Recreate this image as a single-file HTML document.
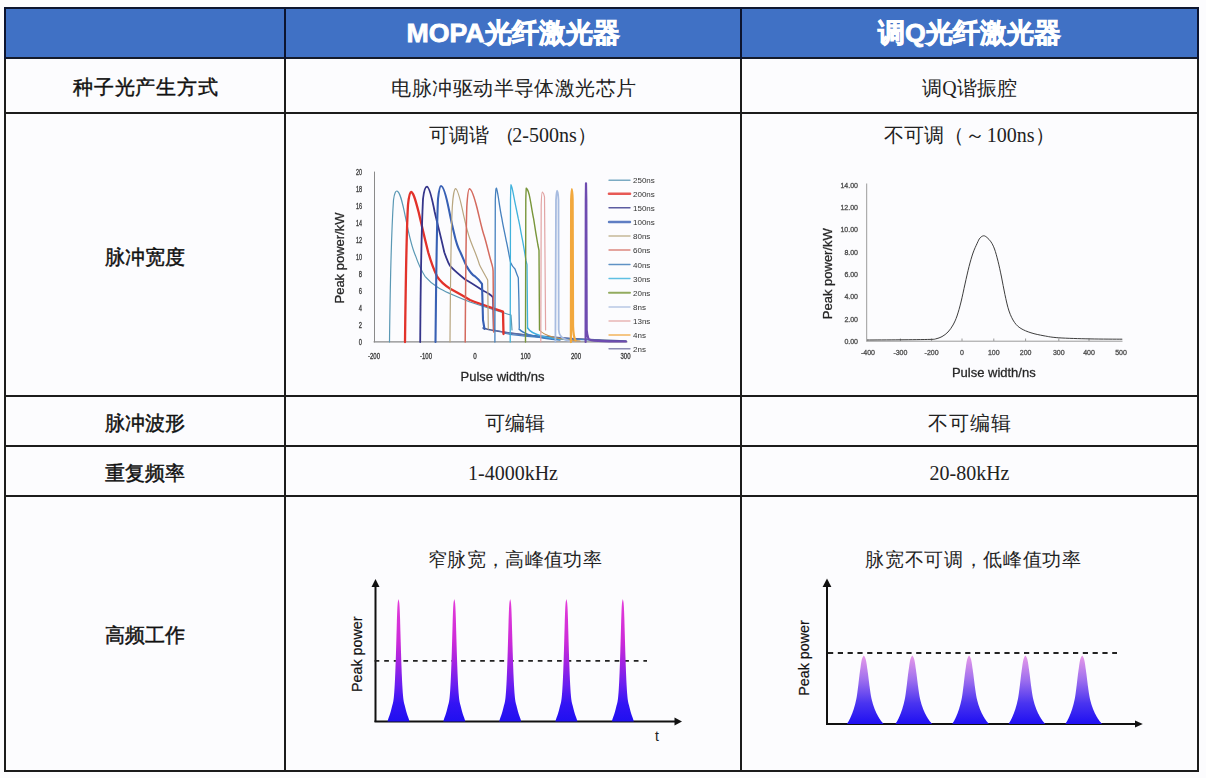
<!DOCTYPE html>
<html><head><meta charset="utf-8">
<style>
html,body{margin:0;padding:0;background:#fcfcfe;}
body{width:1206px;height:778px;position:relative;overflow:hidden;font-family:"Liberation Sans",sans-serif;color:#1a1a1a;}
.hl{position:absolute;height:2px;background:#1c1c1c;left:4px;width:1195px;}
.vl{position:absolute;width:2px;background:#1c1c1c;top:7px;height:765px;}
.t{position:absolute;white-space:nowrap;text-align:center;line-height:1;}
.hd{color:#fff;font-weight:bold;font-size:26.7px;-webkit-text-stroke:0.8px #fff;}
.lb{font-weight:normal;font-size:20px;color:#111;-webkit-text-stroke:0.45px #111;}
.tx{font-family:"Liberation Serif",serif;font-size:20px;color:#222;}
svg{position:absolute;left:0;top:0;}
</style></head><body>
<div style="position:absolute;left:4px;top:7px;width:1195px;height:51px;background:#4071c5;"></div>

<div class="hl" style="top:7px;background:#0d1630"></div>
<div class="hl" style="top:57px;background:#141a2a"></div>
<div class="hl" style="top:112px"></div>
<div class="hl" style="top:395px"></div>
<div class="hl" style="top:445px"></div>
<div class="hl" style="top:495px"></div>
<div class="hl" style="top:770px"></div>
<div class="vl" style="left:4px"></div>
<div class="vl" style="left:284px"></div>
<div class="vl" style="left:740px"></div>
<div class="vl" style="left:1197px"></div>

<div style="position:absolute;left:4px;top:7px;width:2px;height:52px;background:#0c1430"></div>
<div style="position:absolute;left:284px;top:7px;width:2px;height:52px;background:#0c1430"></div>
<div style="position:absolute;left:740px;top:7px;width:2px;height:52px;background:#0c1430"></div>
<div style="position:absolute;left:1197px;top:7px;width:2px;height:52px;background:#0c1430"></div>
<!-- header -->
<div class="t hd" style="left:286px;width:454px;top:20px">MOPA光纤激光器</div>
<div class="t hd" style="left:742px;width:455px;top:20px">调Q光纤激光器</div>

<!-- labels col1 -->
<div class="t lb" style="left:6.8px;width:278px;top:77px;letter-spacing:0.75px">种子光产生方式</div>
<div class="t lb" style="left:6px;width:278px;top:247px">脉冲宽度</div>
<div class="t lb" style="left:6px;width:278px;top:413px">脉冲波形</div>
<div class="t lb" style="left:6px;width:278px;top:463px">重复频率</div>
<div class="t lb" style="left:6px;width:278px;top:625px">高频工作</div>

<!-- col2/col3 text -->
<div class="t tx" style="left:287px;width:454px;top:78px;letter-spacing:0.45px">电脉冲驱动半导体激光芯片</div>
<div class="t tx" style="left:742px;width:455px;top:78px">调Q谐振腔</div>
<div class="t tx" style="left:286px;width:454px;top:125px">可调谐<span style="margin-left:6px;letter-spacing:-3px">（</span>2-500ns<span style="letter-spacing:0">）</span></div>
<div class="t tx" style="left:742px;width:455px;top:125px">不可调<span style="letter-spacing:1px">（</span><span style="letter-spacing:1.5px">～</span>100ns）</div>
<div class="t tx" style="left:287.5px;width:454px;top:413px">可编辑</div>
<div class="t tx" style="left:742px;width:455px;top:413px;letter-spacing:1px">不可编辑</div>
<div class="t tx" style="left:286px;width:454px;top:463px">1-4000kHz</div>
<div class="t tx" style="left:742px;width:455px;top:463px">20-80kHz</div>
<div class="t tx" style="left:288px;width:454px;top:550px;font-size:19px;letter-spacing:0.3px">窄脉宽，高峰值功率</div>
<div class="t tx" style="left:746px;width:455px;top:550px;font-size:19px;letter-spacing:0.7px">脉宽不可调，低峰值功率</div>

<!-- CHARTS -->
<svg width="1206" height="778" viewBox="0 0 1206 778">
<defs>
<filter id="bl" x="-5%" y="-5%" width="110%" height="110%"><feGaussianBlur stdDeviation="0.45"/></filter>
<linearGradient id="g1" gradientUnits="userSpaceOnUse" x1="0" y1="599" x2="0" y2="721.5">
<stop offset="0" stop-color="#e43cd8"/><stop offset="0.35" stop-color="#cc2ad8"/><stop offset="0.5" stop-color="#a824e0"/><stop offset="0.7" stop-color="#6a1ef0"/><stop offset="0.85" stop-color="#3414f4"/><stop offset="1" stop-color="#2010f0"/>
</linearGradient>
<linearGradient id="g2" gradientUnits="userSpaceOnUse" x1="0" y1="655.5" x2="0" y2="723.5">
<stop offset="0" stop-color="#e89ae8"/><stop offset="0.35" stop-color="#a070ee"/><stop offset="0.7" stop-color="#4a34f0"/><stop offset="1" stop-color="#2010f2"/>
</linearGradient>
</defs>
<g font-family="Liberation Sans, sans-serif">
<!-- col2 axes -->
<line x1="375.5" y1="586" x2="375.5" y2="722" stroke="#111" stroke-width="2"/>
<path d="M371.5,587 L375.5,579 L379.5,587 Z" fill="#111"/>
<line x1="374.5" y1="721.5" x2="675" y2="721.5" stroke="#111" stroke-width="2"/>
<path d="M674.5,717.6 L682,721.5 L674.5,725.4 Z" fill="#111"/>
<line x1="374.6" y1="660.8" x2="647" y2="660.8" stroke="#222" stroke-width="1.8" stroke-dasharray="4.7,4.9"/>
<text transform="translate(362,654.3) rotate(-90)" fill="#111" stroke="#111" stroke-width="0.2" font-size="14.3" text-anchor="middle">Peak power</text>
<text x="657" y="741" fill="#222" font-size="14" text-anchor="middle">t</text>
<!-- col3 axes -->
<line x1="827" y1="586" x2="827" y2="725" stroke="#111" stroke-width="2"/>
<path d="M822.6,587 L827,578.5 L831.4,587 Z" fill="#111"/>
<line x1="826" y1="724" x2="1136" y2="724" stroke="#111" stroke-width="1.8"/>
<path d="M1135,720.4 L1142.8,724 L1135,727.6 Z" fill="#111"/>
<line x1="828" y1="653" x2="1117" y2="653" stroke="#222" stroke-width="1.8" stroke-dasharray="5.2,4.6"/>
<text transform="translate(808.5,658) rotate(-90)" fill="#111" stroke="#111" stroke-width="0.2" font-size="14.3" text-anchor="middle">Peak power</text>
</g>
<path d="M387.50,721.50 L388.05,719.49 L388.72,717.48 L389.48,715.49 L390.15,713.50 L390.73,711.52 L391.26,709.55 L391.76,707.58 L392.25,705.62 L392.76,703.68 L393.21,701.74 L393.52,699.81 L393.75,697.88 L393.94,695.97 L394.11,694.06 L394.26,692.17 L394.39,690.28 L394.50,688.40 L394.61,686.53 L394.72,684.67 L394.82,682.82 L394.91,680.97 L395.00,679.14 L395.08,677.32 L395.16,675.51 L395.24,673.70 L395.31,671.91 L395.37,670.13 L395.44,668.35 L395.50,666.59 L395.57,664.84 L395.63,663.10 L395.69,661.37 L395.75,659.65 L395.80,657.94 L395.86,656.24 L395.91,654.56 L395.97,652.88 L396.02,651.22 L396.07,649.57 L396.11,647.93 L396.16,646.31 L396.21,644.70 L396.25,643.10 L396.30,641.51 L396.34,639.94 L396.39,638.38 L396.43,636.84 L396.47,635.31 L396.52,633.79 L396.56,632.29 L396.61,630.81 L396.65,629.34 L396.69,627.89 L396.73,626.45 L396.76,625.03 L396.80,623.63 L396.84,622.25 L396.87,620.88 L396.91,619.54 L396.95,618.21 L397.00,616.91 L397.04,615.63 L397.09,614.37 L397.13,613.13 L397.18,611.92 L397.23,610.73 L397.27,609.57 L397.33,608.44 L397.38,607.34 L397.45,606.27 L397.52,605.24 L397.59,604.25 L397.67,603.29 L397.77,602.39 L397.92,601.53 L398.08,600.74 L398.25,600.03 L398.40,599.42 L398.50,599.00 L398.60,599.42 L398.75,600.03 L398.92,600.74 L399.08,601.53 L399.23,602.39 L399.33,603.29 L399.41,604.25 L399.48,605.24 L399.55,606.27 L399.62,607.34 L399.67,608.44 L399.73,609.57 L399.77,610.73 L399.82,611.92 L399.87,613.13 L399.91,614.37 L399.96,615.63 L400.00,616.91 L400.05,618.21 L400.09,619.54 L400.13,620.88 L400.16,622.25 L400.20,623.63 L400.24,625.03 L400.27,626.45 L400.31,627.89 L400.35,629.34 L400.39,630.81 L400.44,632.29 L400.48,633.79 L400.53,635.31 L400.57,636.84 L400.61,638.38 L400.66,639.94 L400.70,641.51 L400.75,643.10 L400.79,644.70 L400.84,646.31 L400.89,647.93 L400.93,649.57 L400.98,651.22 L401.03,652.88 L401.09,654.56 L401.14,656.24 L401.20,657.94 L401.25,659.65 L401.31,661.37 L401.37,663.10 L401.43,664.84 L401.50,666.59 L401.56,668.35 L401.63,670.13 L401.69,671.91 L401.76,673.70 L401.84,675.51 L401.92,677.32 L402.00,679.14 L402.09,680.97 L402.18,682.82 L402.28,684.67 L402.39,686.53 L402.50,688.40 L402.61,690.28 L402.74,692.17 L402.89,694.06 L403.06,695.97 L403.25,697.88 L403.48,699.81 L403.79,701.74 L404.24,703.68 L404.75,705.62 L405.24,707.58 L405.74,709.55 L406.27,711.52 L406.85,713.50 L407.52,715.49 L408.28,717.48 L408.95,719.49 L409.50,721.50Z" fill="url(#g1)"/>
<path d="M443.30,721.50 L443.85,719.49 L444.52,717.48 L445.28,715.49 L445.95,713.50 L446.53,711.52 L447.06,709.55 L447.56,707.58 L448.05,705.62 L448.56,703.68 L449.01,701.74 L449.32,699.81 L449.55,697.88 L449.74,695.97 L449.91,694.06 L450.06,692.17 L450.19,690.28 L450.30,688.40 L450.41,686.53 L450.52,684.67 L450.62,682.82 L450.71,680.97 L450.80,679.14 L450.88,677.32 L450.96,675.51 L451.04,673.70 L451.11,671.91 L451.17,670.13 L451.24,668.35 L451.30,666.59 L451.37,664.84 L451.43,663.10 L451.49,661.37 L451.55,659.65 L451.60,657.94 L451.66,656.24 L451.71,654.56 L451.77,652.88 L451.82,651.22 L451.87,649.57 L451.91,647.93 L451.96,646.31 L452.01,644.70 L452.05,643.10 L452.10,641.51 L452.14,639.94 L452.19,638.38 L452.23,636.84 L452.27,635.31 L452.32,633.79 L452.36,632.29 L452.41,630.81 L452.45,629.34 L452.49,627.89 L452.53,626.45 L452.56,625.03 L452.60,623.63 L452.64,622.25 L452.67,620.88 L452.71,619.54 L452.75,618.21 L452.80,616.91 L452.84,615.63 L452.89,614.37 L452.93,613.13 L452.98,611.92 L453.03,610.73 L453.07,609.57 L453.13,608.44 L453.18,607.34 L453.25,606.27 L453.32,605.24 L453.39,604.25 L453.47,603.29 L453.57,602.39 L453.72,601.53 L453.88,600.74 L454.05,600.03 L454.20,599.42 L454.30,599.00 L454.40,599.42 L454.55,600.03 L454.72,600.74 L454.88,601.53 L455.03,602.39 L455.13,603.29 L455.21,604.25 L455.28,605.24 L455.35,606.27 L455.42,607.34 L455.47,608.44 L455.53,609.57 L455.57,610.73 L455.62,611.92 L455.67,613.13 L455.71,614.37 L455.76,615.63 L455.80,616.91 L455.85,618.21 L455.89,619.54 L455.93,620.88 L455.96,622.25 L456.00,623.63 L456.04,625.03 L456.07,626.45 L456.11,627.89 L456.15,629.34 L456.19,630.81 L456.24,632.29 L456.28,633.79 L456.33,635.31 L456.37,636.84 L456.41,638.38 L456.46,639.94 L456.50,641.51 L456.55,643.10 L456.59,644.70 L456.64,646.31 L456.69,647.93 L456.73,649.57 L456.78,651.22 L456.83,652.88 L456.89,654.56 L456.94,656.24 L457.00,657.94 L457.05,659.65 L457.11,661.37 L457.17,663.10 L457.23,664.84 L457.30,666.59 L457.36,668.35 L457.43,670.13 L457.49,671.91 L457.56,673.70 L457.64,675.51 L457.72,677.32 L457.80,679.14 L457.89,680.97 L457.98,682.82 L458.08,684.67 L458.19,686.53 L458.30,688.40 L458.41,690.28 L458.54,692.17 L458.69,694.06 L458.86,695.97 L459.05,697.88 L459.28,699.81 L459.59,701.74 L460.04,703.68 L460.55,705.62 L461.04,707.58 L461.54,709.55 L462.07,711.52 L462.65,713.50 L463.32,715.49 L464.08,717.48 L464.75,719.49 L465.30,721.50Z" fill="url(#g1)"/>
<path d="M499.20,721.50 L499.75,719.49 L500.42,717.48 L501.18,715.49 L501.85,713.50 L502.43,711.52 L502.96,709.55 L503.46,707.58 L503.95,705.62 L504.46,703.68 L504.91,701.74 L505.22,699.81 L505.45,697.88 L505.64,695.97 L505.81,694.06 L505.96,692.17 L506.09,690.28 L506.20,688.40 L506.31,686.53 L506.42,684.67 L506.52,682.82 L506.61,680.97 L506.70,679.14 L506.78,677.32 L506.86,675.51 L506.94,673.70 L507.01,671.91 L507.07,670.13 L507.14,668.35 L507.20,666.59 L507.27,664.84 L507.33,663.10 L507.39,661.37 L507.45,659.65 L507.50,657.94 L507.56,656.24 L507.61,654.56 L507.67,652.88 L507.72,651.22 L507.77,649.57 L507.81,647.93 L507.86,646.31 L507.91,644.70 L507.95,643.10 L508.00,641.51 L508.04,639.94 L508.09,638.38 L508.13,636.84 L508.17,635.31 L508.22,633.79 L508.26,632.29 L508.31,630.81 L508.35,629.34 L508.39,627.89 L508.43,626.45 L508.46,625.03 L508.50,623.63 L508.54,622.25 L508.57,620.88 L508.61,619.54 L508.65,618.21 L508.70,616.91 L508.74,615.63 L508.79,614.37 L508.83,613.13 L508.88,611.92 L508.93,610.73 L508.97,609.57 L509.03,608.44 L509.08,607.34 L509.15,606.27 L509.22,605.24 L509.29,604.25 L509.37,603.29 L509.47,602.39 L509.62,601.53 L509.78,600.74 L509.95,600.03 L510.10,599.42 L510.20,599.00 L510.30,599.42 L510.45,600.03 L510.62,600.74 L510.78,601.53 L510.93,602.39 L511.03,603.29 L511.11,604.25 L511.18,605.24 L511.25,606.27 L511.32,607.34 L511.37,608.44 L511.43,609.57 L511.47,610.73 L511.52,611.92 L511.57,613.13 L511.61,614.37 L511.66,615.63 L511.70,616.91 L511.75,618.21 L511.79,619.54 L511.83,620.88 L511.86,622.25 L511.90,623.63 L511.94,625.03 L511.97,626.45 L512.01,627.89 L512.05,629.34 L512.09,630.81 L512.14,632.29 L512.18,633.79 L512.23,635.31 L512.27,636.84 L512.31,638.38 L512.36,639.94 L512.40,641.51 L512.45,643.10 L512.49,644.70 L512.54,646.31 L512.59,647.93 L512.63,649.57 L512.68,651.22 L512.73,652.88 L512.79,654.56 L512.84,656.24 L512.90,657.94 L512.95,659.65 L513.01,661.37 L513.07,663.10 L513.13,664.84 L513.20,666.59 L513.26,668.35 L513.33,670.13 L513.39,671.91 L513.46,673.70 L513.54,675.51 L513.62,677.32 L513.70,679.14 L513.79,680.97 L513.88,682.82 L513.98,684.67 L514.09,686.53 L514.20,688.40 L514.31,690.28 L514.44,692.17 L514.59,694.06 L514.76,695.97 L514.95,697.88 L515.18,699.81 L515.49,701.74 L515.94,703.68 L516.45,705.62 L516.94,707.58 L517.44,709.55 L517.97,711.52 L518.55,713.50 L519.22,715.49 L519.98,717.48 L520.65,719.49 L521.20,721.50Z" fill="url(#g1)"/>
<path d="M555.40,721.50 L555.95,719.49 L556.62,717.48 L557.38,715.49 L558.05,713.50 L558.63,711.52 L559.16,709.55 L559.66,707.58 L560.15,705.62 L560.66,703.68 L561.11,701.74 L561.42,699.81 L561.65,697.88 L561.84,695.97 L562.01,694.06 L562.16,692.17 L562.29,690.28 L562.40,688.40 L562.51,686.53 L562.62,684.67 L562.72,682.82 L562.81,680.97 L562.90,679.14 L562.98,677.32 L563.06,675.51 L563.14,673.70 L563.21,671.91 L563.27,670.13 L563.34,668.35 L563.40,666.59 L563.47,664.84 L563.53,663.10 L563.59,661.37 L563.65,659.65 L563.70,657.94 L563.76,656.24 L563.81,654.56 L563.87,652.88 L563.92,651.22 L563.97,649.57 L564.01,647.93 L564.06,646.31 L564.11,644.70 L564.15,643.10 L564.20,641.51 L564.24,639.94 L564.29,638.38 L564.33,636.84 L564.37,635.31 L564.42,633.79 L564.46,632.29 L564.51,630.81 L564.55,629.34 L564.59,627.89 L564.63,626.45 L564.66,625.03 L564.70,623.63 L564.74,622.25 L564.77,620.88 L564.81,619.54 L564.85,618.21 L564.90,616.91 L564.94,615.63 L564.99,614.37 L565.03,613.13 L565.08,611.92 L565.13,610.73 L565.17,609.57 L565.23,608.44 L565.28,607.34 L565.35,606.27 L565.42,605.24 L565.49,604.25 L565.57,603.29 L565.67,602.39 L565.82,601.53 L565.98,600.74 L566.15,600.03 L566.30,599.42 L566.40,599.00 L566.50,599.42 L566.65,600.03 L566.82,600.74 L566.98,601.53 L567.13,602.39 L567.23,603.29 L567.31,604.25 L567.38,605.24 L567.45,606.27 L567.52,607.34 L567.57,608.44 L567.63,609.57 L567.67,610.73 L567.72,611.92 L567.77,613.13 L567.81,614.37 L567.86,615.63 L567.90,616.91 L567.95,618.21 L567.99,619.54 L568.03,620.88 L568.06,622.25 L568.10,623.63 L568.14,625.03 L568.17,626.45 L568.21,627.89 L568.25,629.34 L568.29,630.81 L568.34,632.29 L568.38,633.79 L568.43,635.31 L568.47,636.84 L568.51,638.38 L568.56,639.94 L568.60,641.51 L568.65,643.10 L568.69,644.70 L568.74,646.31 L568.79,647.93 L568.83,649.57 L568.88,651.22 L568.93,652.88 L568.99,654.56 L569.04,656.24 L569.10,657.94 L569.15,659.65 L569.21,661.37 L569.27,663.10 L569.33,664.84 L569.40,666.59 L569.46,668.35 L569.53,670.13 L569.59,671.91 L569.66,673.70 L569.74,675.51 L569.82,677.32 L569.90,679.14 L569.99,680.97 L570.08,682.82 L570.18,684.67 L570.29,686.53 L570.40,688.40 L570.51,690.28 L570.64,692.17 L570.79,694.06 L570.96,695.97 L571.15,697.88 L571.38,699.81 L571.69,701.74 L572.14,703.68 L572.65,705.62 L573.14,707.58 L573.64,709.55 L574.17,711.52 L574.75,713.50 L575.42,715.49 L576.18,717.48 L576.85,719.49 L577.40,721.50Z" fill="url(#g1)"/>
<path d="M611.80,721.50 L612.35,719.49 L613.02,717.48 L613.78,715.49 L614.45,713.50 L615.03,711.52 L615.56,709.55 L616.06,707.58 L616.55,705.62 L617.06,703.68 L617.51,701.74 L617.82,699.81 L618.05,697.88 L618.24,695.97 L618.41,694.06 L618.56,692.17 L618.69,690.28 L618.80,688.40 L618.91,686.53 L619.02,684.67 L619.12,682.82 L619.21,680.97 L619.30,679.14 L619.38,677.32 L619.46,675.51 L619.54,673.70 L619.61,671.91 L619.67,670.13 L619.74,668.35 L619.80,666.59 L619.87,664.84 L619.93,663.10 L619.99,661.37 L620.05,659.65 L620.10,657.94 L620.16,656.24 L620.21,654.56 L620.27,652.88 L620.32,651.22 L620.37,649.57 L620.41,647.93 L620.46,646.31 L620.51,644.70 L620.55,643.10 L620.60,641.51 L620.64,639.94 L620.69,638.38 L620.73,636.84 L620.77,635.31 L620.82,633.79 L620.86,632.29 L620.91,630.81 L620.95,629.34 L620.99,627.89 L621.03,626.45 L621.06,625.03 L621.10,623.63 L621.14,622.25 L621.17,620.88 L621.21,619.54 L621.25,618.21 L621.30,616.91 L621.34,615.63 L621.39,614.37 L621.43,613.13 L621.48,611.92 L621.53,610.73 L621.57,609.57 L621.63,608.44 L621.68,607.34 L621.75,606.27 L621.82,605.24 L621.89,604.25 L621.97,603.29 L622.07,602.39 L622.22,601.53 L622.38,600.74 L622.55,600.03 L622.70,599.42 L622.80,599.00 L622.90,599.42 L623.05,600.03 L623.22,600.74 L623.38,601.53 L623.53,602.39 L623.63,603.29 L623.71,604.25 L623.78,605.24 L623.85,606.27 L623.92,607.34 L623.97,608.44 L624.03,609.57 L624.07,610.73 L624.12,611.92 L624.17,613.13 L624.21,614.37 L624.26,615.63 L624.30,616.91 L624.35,618.21 L624.39,619.54 L624.43,620.88 L624.46,622.25 L624.50,623.63 L624.54,625.03 L624.57,626.45 L624.61,627.89 L624.65,629.34 L624.69,630.81 L624.74,632.29 L624.78,633.79 L624.83,635.31 L624.87,636.84 L624.91,638.38 L624.96,639.94 L625.00,641.51 L625.05,643.10 L625.09,644.70 L625.14,646.31 L625.19,647.93 L625.23,649.57 L625.28,651.22 L625.33,652.88 L625.39,654.56 L625.44,656.24 L625.50,657.94 L625.55,659.65 L625.61,661.37 L625.67,663.10 L625.73,664.84 L625.80,666.59 L625.86,668.35 L625.93,670.13 L625.99,671.91 L626.06,673.70 L626.14,675.51 L626.22,677.32 L626.30,679.14 L626.39,680.97 L626.48,682.82 L626.58,684.67 L626.69,686.53 L626.80,688.40 L626.91,690.28 L627.04,692.17 L627.19,694.06 L627.36,695.97 L627.55,697.88 L627.78,699.81 L628.09,701.74 L628.54,703.68 L629.05,705.62 L629.54,707.58 L630.04,709.55 L630.57,711.52 L631.15,713.50 L631.82,715.49 L632.58,717.48 L633.25,719.49 L633.80,721.50Z" fill="url(#g1)"/>
<path d="M846.96,724.00 L847.64,722.87 L848.29,721.75 L848.90,720.64 L849.49,719.53 L850.04,718.42 L850.56,717.32 L851.05,716.22 L851.52,715.12 L851.96,714.03 L852.38,712.95 L852.78,711.87 L853.16,710.79 L853.51,709.72 L853.85,708.66 L854.17,707.60 L854.48,706.54 L854.77,705.49 L855.05,704.44 L855.32,703.40 L855.58,702.37 L855.82,701.34 L856.06,700.31 L856.28,699.29 L856.47,698.28 L856.65,697.27 L856.81,696.27 L856.96,695.27 L857.11,694.28 L857.25,693.30 L857.38,692.32 L857.51,691.34 L857.63,690.37 L857.75,689.41 L857.87,688.46 L857.99,687.51 L858.11,686.57 L858.23,685.63 L858.34,684.70 L858.45,683.78 L858.56,682.86 L858.66,681.95 L858.76,681.05 L858.86,680.16 L858.96,679.27 L859.06,678.39 L859.16,677.52 L859.27,676.66 L859.37,675.80 L859.48,674.96 L859.58,674.12 L859.69,673.29 L859.80,672.46 L859.91,671.65 L860.02,670.85 L860.14,670.06 L860.25,669.27 L860.36,668.50 L860.47,667.74 L860.57,666.98 L860.67,666.24 L860.76,665.51 L860.86,664.80 L860.97,664.09 L861.07,663.40 L861.18,662.72 L861.29,662.06 L861.41,661.41 L861.54,660.78 L861.67,660.16 L861.82,659.57 L861.98,658.99 L862.15,658.43 L862.34,657.90 L862.55,657.39 L862.79,656.92 L863.07,656.48 L863.36,656.08 L863.62,655.73 L863.80,655.50 L863.98,655.73 L864.24,656.08 L864.53,656.48 L864.81,656.92 L865.05,657.39 L865.26,657.90 L865.45,658.43 L865.62,658.99 L865.78,659.57 L865.93,660.16 L866.06,660.78 L866.19,661.41 L866.31,662.06 L866.42,662.72 L866.53,663.40 L866.64,664.09 L866.74,664.80 L866.84,665.51 L866.94,666.24 L867.04,666.98 L867.14,667.74 L867.24,668.50 L867.36,669.27 L867.47,670.06 L867.58,670.85 L867.70,671.65 L867.81,672.46 L867.92,673.29 L868.03,674.12 L868.14,674.96 L868.25,675.80 L868.36,676.66 L868.46,677.52 L868.57,678.39 L868.67,679.27 L868.78,680.16 L868.88,681.05 L868.99,681.95 L869.10,682.86 L869.21,683.78 L869.33,684.70 L869.45,685.63 L869.58,686.57 L869.71,687.51 L869.84,688.46 L869.97,689.41 L870.10,690.37 L870.24,691.34 L870.38,692.32 L870.53,693.30 L870.69,694.28 L870.85,695.27 L871.03,696.27 L871.22,697.27 L871.42,698.28 L871.65,699.29 L871.90,700.31 L872.17,701.34 L872.46,702.37 L872.76,703.40 L873.07,704.44 L873.41,705.49 L873.76,706.54 L874.13,707.60 L874.53,708.66 L874.94,709.72 L875.38,710.79 L875.84,711.87 L876.35,712.95 L876.88,714.03 L877.45,715.12 L878.05,716.22 L878.69,717.32 L879.38,718.42 L880.12,719.53 L880.90,720.64 L881.73,721.75 L882.62,722.87 L883.56,724.00Z" fill="url(#g2)"/>
<path d="M895.46,724.00 L896.14,722.87 L896.79,721.75 L897.40,720.64 L897.99,719.53 L898.54,718.42 L899.06,717.32 L899.55,716.22 L900.02,715.12 L900.46,714.03 L900.88,712.95 L901.28,711.87 L901.66,710.79 L902.01,709.72 L902.35,708.66 L902.67,707.60 L902.98,706.54 L903.27,705.49 L903.55,704.44 L903.82,703.40 L904.08,702.37 L904.32,701.34 L904.56,700.31 L904.78,699.29 L904.97,698.28 L905.15,697.27 L905.31,696.27 L905.46,695.27 L905.61,694.28 L905.75,693.30 L905.88,692.32 L906.01,691.34 L906.13,690.37 L906.25,689.41 L906.37,688.46 L906.49,687.51 L906.61,686.57 L906.73,685.63 L906.84,684.70 L906.95,683.78 L907.06,682.86 L907.16,681.95 L907.26,681.05 L907.36,680.16 L907.46,679.27 L907.56,678.39 L907.66,677.52 L907.77,676.66 L907.87,675.80 L907.98,674.96 L908.08,674.12 L908.19,673.29 L908.30,672.46 L908.41,671.65 L908.52,670.85 L908.64,670.06 L908.75,669.27 L908.86,668.50 L908.97,667.74 L909.07,666.98 L909.17,666.24 L909.26,665.51 L909.36,664.80 L909.47,664.09 L909.57,663.40 L909.68,662.72 L909.79,662.06 L909.91,661.41 L910.04,660.78 L910.17,660.16 L910.32,659.57 L910.48,658.99 L910.65,658.43 L910.84,657.90 L911.05,657.39 L911.29,656.92 L911.57,656.48 L911.86,656.08 L912.12,655.73 L912.30,655.50 L912.48,655.73 L912.74,656.08 L913.03,656.48 L913.31,656.92 L913.55,657.39 L913.76,657.90 L913.95,658.43 L914.12,658.99 L914.28,659.57 L914.43,660.16 L914.56,660.78 L914.69,661.41 L914.81,662.06 L914.92,662.72 L915.03,663.40 L915.14,664.09 L915.24,664.80 L915.34,665.51 L915.44,666.24 L915.54,666.98 L915.64,667.74 L915.74,668.50 L915.86,669.27 L915.97,670.06 L916.08,670.85 L916.20,671.65 L916.31,672.46 L916.42,673.29 L916.53,674.12 L916.64,674.96 L916.75,675.80 L916.86,676.66 L916.96,677.52 L917.07,678.39 L917.17,679.27 L917.28,680.16 L917.38,681.05 L917.49,681.95 L917.60,682.86 L917.71,683.78 L917.83,684.70 L917.95,685.63 L918.08,686.57 L918.21,687.51 L918.34,688.46 L918.47,689.41 L918.60,690.37 L918.74,691.34 L918.88,692.32 L919.03,693.30 L919.19,694.28 L919.35,695.27 L919.53,696.27 L919.72,697.27 L919.92,698.28 L920.15,699.29 L920.40,700.31 L920.67,701.34 L920.96,702.37 L921.26,703.40 L921.57,704.44 L921.91,705.49 L922.26,706.54 L922.63,707.60 L923.03,708.66 L923.44,709.72 L923.88,710.79 L924.34,711.87 L924.85,712.95 L925.38,714.03 L925.95,715.12 L926.55,716.22 L927.19,717.32 L927.88,718.42 L928.62,719.53 L929.40,720.64 L930.23,721.75 L931.12,722.87 L932.06,724.00Z" fill="url(#g2)"/>
<path d="M952.26,724.00 L952.94,722.87 L953.59,721.75 L954.20,720.64 L954.79,719.53 L955.34,718.42 L955.86,717.32 L956.35,716.22 L956.82,715.12 L957.26,714.03 L957.68,712.95 L958.08,711.87 L958.46,710.79 L958.81,709.72 L959.15,708.66 L959.47,707.60 L959.78,706.54 L960.07,705.49 L960.35,704.44 L960.62,703.40 L960.88,702.37 L961.12,701.34 L961.36,700.31 L961.58,699.29 L961.77,698.28 L961.95,697.27 L962.11,696.27 L962.26,695.27 L962.41,694.28 L962.55,693.30 L962.68,692.32 L962.81,691.34 L962.93,690.37 L963.05,689.41 L963.17,688.46 L963.29,687.51 L963.41,686.57 L963.53,685.63 L963.64,684.70 L963.75,683.78 L963.86,682.86 L963.96,681.95 L964.06,681.05 L964.16,680.16 L964.26,679.27 L964.36,678.39 L964.46,677.52 L964.57,676.66 L964.67,675.80 L964.78,674.96 L964.88,674.12 L964.99,673.29 L965.10,672.46 L965.21,671.65 L965.32,670.85 L965.44,670.06 L965.55,669.27 L965.66,668.50 L965.77,667.74 L965.87,666.98 L965.97,666.24 L966.06,665.51 L966.16,664.80 L966.27,664.09 L966.37,663.40 L966.48,662.72 L966.59,662.06 L966.71,661.41 L966.84,660.78 L966.97,660.16 L967.12,659.57 L967.28,658.99 L967.45,658.43 L967.64,657.90 L967.85,657.39 L968.09,656.92 L968.37,656.48 L968.66,656.08 L968.92,655.73 L969.10,655.50 L969.28,655.73 L969.54,656.08 L969.83,656.48 L970.11,656.92 L970.35,657.39 L970.56,657.90 L970.75,658.43 L970.92,658.99 L971.08,659.57 L971.23,660.16 L971.36,660.78 L971.49,661.41 L971.61,662.06 L971.72,662.72 L971.83,663.40 L971.94,664.09 L972.04,664.80 L972.14,665.51 L972.24,666.24 L972.34,666.98 L972.44,667.74 L972.54,668.50 L972.66,669.27 L972.77,670.06 L972.88,670.85 L973.00,671.65 L973.11,672.46 L973.22,673.29 L973.33,674.12 L973.44,674.96 L973.55,675.80 L973.66,676.66 L973.76,677.52 L973.87,678.39 L973.97,679.27 L974.08,680.16 L974.18,681.05 L974.29,681.95 L974.40,682.86 L974.51,683.78 L974.63,684.70 L974.75,685.63 L974.88,686.57 L975.01,687.51 L975.14,688.46 L975.27,689.41 L975.40,690.37 L975.54,691.34 L975.68,692.32 L975.83,693.30 L975.99,694.28 L976.15,695.27 L976.33,696.27 L976.52,697.27 L976.72,698.28 L976.95,699.29 L977.20,700.31 L977.47,701.34 L977.76,702.37 L978.06,703.40 L978.37,704.44 L978.71,705.49 L979.06,706.54 L979.43,707.60 L979.83,708.66 L980.24,709.72 L980.68,710.79 L981.14,711.87 L981.65,712.95 L982.18,714.03 L982.75,715.12 L983.35,716.22 L983.99,717.32 L984.68,718.42 L985.42,719.53 L986.20,720.64 L987.03,721.75 L987.92,722.87 L988.86,724.00Z" fill="url(#g2)"/>
<path d="M1008.56,724.00 L1009.24,722.87 L1009.89,721.75 L1010.50,720.64 L1011.09,719.53 L1011.64,718.42 L1012.16,717.32 L1012.65,716.22 L1013.12,715.12 L1013.56,714.03 L1013.98,712.95 L1014.38,711.87 L1014.76,710.79 L1015.11,709.72 L1015.45,708.66 L1015.77,707.60 L1016.08,706.54 L1016.37,705.49 L1016.65,704.44 L1016.92,703.40 L1017.18,702.37 L1017.42,701.34 L1017.66,700.31 L1017.88,699.29 L1018.07,698.28 L1018.25,697.27 L1018.41,696.27 L1018.56,695.27 L1018.71,694.28 L1018.85,693.30 L1018.98,692.32 L1019.11,691.34 L1019.23,690.37 L1019.35,689.41 L1019.47,688.46 L1019.59,687.51 L1019.71,686.57 L1019.83,685.63 L1019.94,684.70 L1020.05,683.78 L1020.16,682.86 L1020.26,681.95 L1020.36,681.05 L1020.46,680.16 L1020.56,679.27 L1020.66,678.39 L1020.76,677.52 L1020.87,676.66 L1020.97,675.80 L1021.08,674.96 L1021.18,674.12 L1021.29,673.29 L1021.40,672.46 L1021.51,671.65 L1021.62,670.85 L1021.74,670.06 L1021.85,669.27 L1021.96,668.50 L1022.07,667.74 L1022.17,666.98 L1022.27,666.24 L1022.36,665.51 L1022.46,664.80 L1022.57,664.09 L1022.67,663.40 L1022.78,662.72 L1022.89,662.06 L1023.01,661.41 L1023.14,660.78 L1023.27,660.16 L1023.42,659.57 L1023.58,658.99 L1023.75,658.43 L1023.94,657.90 L1024.15,657.39 L1024.39,656.92 L1024.67,656.48 L1024.96,656.08 L1025.22,655.73 L1025.40,655.50 L1025.58,655.73 L1025.84,656.08 L1026.13,656.48 L1026.41,656.92 L1026.65,657.39 L1026.86,657.90 L1027.05,658.43 L1027.22,658.99 L1027.38,659.57 L1027.53,660.16 L1027.66,660.78 L1027.79,661.41 L1027.91,662.06 L1028.02,662.72 L1028.13,663.40 L1028.24,664.09 L1028.34,664.80 L1028.44,665.51 L1028.54,666.24 L1028.64,666.98 L1028.74,667.74 L1028.84,668.50 L1028.96,669.27 L1029.07,670.06 L1029.18,670.85 L1029.30,671.65 L1029.41,672.46 L1029.52,673.29 L1029.63,674.12 L1029.74,674.96 L1029.85,675.80 L1029.96,676.66 L1030.06,677.52 L1030.17,678.39 L1030.27,679.27 L1030.38,680.16 L1030.48,681.05 L1030.59,681.95 L1030.70,682.86 L1030.81,683.78 L1030.93,684.70 L1031.05,685.63 L1031.18,686.57 L1031.31,687.51 L1031.44,688.46 L1031.57,689.41 L1031.70,690.37 L1031.84,691.34 L1031.98,692.32 L1032.13,693.30 L1032.29,694.28 L1032.45,695.27 L1032.63,696.27 L1032.82,697.27 L1033.02,698.28 L1033.25,699.29 L1033.50,700.31 L1033.77,701.34 L1034.06,702.37 L1034.36,703.40 L1034.67,704.44 L1035.01,705.49 L1035.36,706.54 L1035.73,707.60 L1036.13,708.66 L1036.54,709.72 L1036.98,710.79 L1037.44,711.87 L1037.95,712.95 L1038.48,714.03 L1039.05,715.12 L1039.65,716.22 L1040.29,717.32 L1040.98,718.42 L1041.72,719.53 L1042.50,720.64 L1043.33,721.75 L1044.22,722.87 L1045.16,724.00Z" fill="url(#g2)"/>
<path d="M1065.36,724.00 L1066.04,722.87 L1066.69,721.75 L1067.30,720.64 L1067.89,719.53 L1068.44,718.42 L1068.96,717.32 L1069.45,716.22 L1069.92,715.12 L1070.36,714.03 L1070.78,712.95 L1071.18,711.87 L1071.56,710.79 L1071.91,709.72 L1072.25,708.66 L1072.57,707.60 L1072.88,706.54 L1073.17,705.49 L1073.45,704.44 L1073.72,703.40 L1073.98,702.37 L1074.22,701.34 L1074.46,700.31 L1074.68,699.29 L1074.87,698.28 L1075.05,697.27 L1075.21,696.27 L1075.36,695.27 L1075.51,694.28 L1075.65,693.30 L1075.78,692.32 L1075.91,691.34 L1076.03,690.37 L1076.15,689.41 L1076.27,688.46 L1076.39,687.51 L1076.51,686.57 L1076.63,685.63 L1076.74,684.70 L1076.85,683.78 L1076.96,682.86 L1077.06,681.95 L1077.16,681.05 L1077.26,680.16 L1077.36,679.27 L1077.46,678.39 L1077.56,677.52 L1077.67,676.66 L1077.77,675.80 L1077.88,674.96 L1077.98,674.12 L1078.09,673.29 L1078.20,672.46 L1078.31,671.65 L1078.42,670.85 L1078.54,670.06 L1078.65,669.27 L1078.76,668.50 L1078.87,667.74 L1078.97,666.98 L1079.07,666.24 L1079.16,665.51 L1079.26,664.80 L1079.37,664.09 L1079.47,663.40 L1079.58,662.72 L1079.69,662.06 L1079.81,661.41 L1079.94,660.78 L1080.07,660.16 L1080.22,659.57 L1080.38,658.99 L1080.55,658.43 L1080.74,657.90 L1080.95,657.39 L1081.19,656.92 L1081.47,656.48 L1081.76,656.08 L1082.02,655.73 L1082.20,655.50 L1082.38,655.73 L1082.64,656.08 L1082.93,656.48 L1083.21,656.92 L1083.45,657.39 L1083.66,657.90 L1083.85,658.43 L1084.02,658.99 L1084.18,659.57 L1084.33,660.16 L1084.46,660.78 L1084.59,661.41 L1084.71,662.06 L1084.82,662.72 L1084.93,663.40 L1085.04,664.09 L1085.14,664.80 L1085.24,665.51 L1085.34,666.24 L1085.44,666.98 L1085.54,667.74 L1085.64,668.50 L1085.76,669.27 L1085.87,670.06 L1085.98,670.85 L1086.10,671.65 L1086.21,672.46 L1086.32,673.29 L1086.43,674.12 L1086.54,674.96 L1086.65,675.80 L1086.76,676.66 L1086.86,677.52 L1086.97,678.39 L1087.07,679.27 L1087.18,680.16 L1087.28,681.05 L1087.39,681.95 L1087.50,682.86 L1087.61,683.78 L1087.73,684.70 L1087.85,685.63 L1087.98,686.57 L1088.11,687.51 L1088.24,688.46 L1088.37,689.41 L1088.50,690.37 L1088.64,691.34 L1088.78,692.32 L1088.93,693.30 L1089.09,694.28 L1089.25,695.27 L1089.43,696.27 L1089.62,697.27 L1089.82,698.28 L1090.05,699.29 L1090.30,700.31 L1090.57,701.34 L1090.86,702.37 L1091.16,703.40 L1091.47,704.44 L1091.81,705.49 L1092.16,706.54 L1092.53,707.60 L1092.93,708.66 L1093.34,709.72 L1093.78,710.79 L1094.24,711.87 L1094.75,712.95 L1095.28,714.03 L1095.85,715.12 L1096.45,716.22 L1097.09,717.32 L1097.78,718.42 L1098.52,719.53 L1099.30,720.64 L1100.13,721.75 L1101.02,722.87 L1101.96,724.00Z" fill="url(#g2)"/><g font-family="Liberation Sans, sans-serif" fill="none" stroke-linejoin="round" stroke-linecap="round" filter="url(#bl)">
<!-- axes -->
<line x1="374.5" y1="172" x2="374.5" y2="342" stroke="#8a8a8a" stroke-width="1"/>
<line x1="374" y1="341.8" x2="627" y2="341.8" stroke="#8a8a8a" stroke-width="1.2"/>
<!-- y labels -->
<g fill="#333" stroke="#444" stroke-width="0.35" font-size="8.5" text-anchor="end">
<text x="362" y="175" textLength="6" lengthAdjust="spacingAndGlyphs">20</text><text x="362" y="192" textLength="6" lengthAdjust="spacingAndGlyphs">18</text><text x="362" y="209" textLength="6" lengthAdjust="spacingAndGlyphs">16</text><text x="362" y="226" textLength="6" lengthAdjust="spacingAndGlyphs">14</text><text x="362" y="243" textLength="6" lengthAdjust="spacingAndGlyphs">12</text><text x="362" y="260" textLength="6" lengthAdjust="spacingAndGlyphs">10</text><text x="362" y="277" textLength="3.2" lengthAdjust="spacingAndGlyphs">8</text><text x="362" y="294" textLength="3.2" lengthAdjust="spacingAndGlyphs">6</text><text x="362" y="311" textLength="3.2" lengthAdjust="spacingAndGlyphs">4</text><text x="362" y="328" textLength="3.2" lengthAdjust="spacingAndGlyphs">2</text><text x="362" y="345" textLength="3.2" lengthAdjust="spacingAndGlyphs">0</text>
</g>
<g fill="#333" stroke="#444" stroke-width="0.35" font-size="8.5" text-anchor="middle">
<text x="374" y="359" textLength="12" lengthAdjust="spacingAndGlyphs">-200</text><text x="426" y="359" textLength="12" lengthAdjust="spacingAndGlyphs">-100</text><text x="475" y="359" textLength="3.5" lengthAdjust="spacingAndGlyphs">0</text><text x="525.6" y="359" textLength="10" lengthAdjust="spacingAndGlyphs">100</text><text x="576" y="359" textLength="10" lengthAdjust="spacingAndGlyphs">200</text><text x="625.5" y="359" textLength="10" lengthAdjust="spacingAndGlyphs">300</text>
</g>
<text x="502.5" y="380.5" fill="#222" stroke="#333" stroke-width="0.3" font-size="13" text-anchor="middle">Pulse width/ns</text>
<text transform="translate(344,258) rotate(-90)" fill="#222" stroke="#333" stroke-width="0.3" font-size="13" text-anchor="middle">Peak power/kW</text>

<!-- baseline tails -->
<path d="M483,328 C500,333 540,337 600,340 L626,341" stroke="#4a5a90" stroke-width="1.5"/>
<path d="M494,330 C510,334 550,338 600,340" stroke="#6070a8" stroke-width="1.2"/>
<path d="M503,333 C515,336 540,338 590,340" stroke="#4a80c0" stroke-width="1.2"/>
<path d="M519,329 C524,335 537,338 560,340" stroke="#3d7cc0" stroke-width="1.5"/>
<path d="M527.6,328 C532,335 545,338 570,340" stroke="#40b0e0" stroke-width="1.5"/>
<path d="M539.5,330 C544,336 556,339 580,341" stroke="#c09050" stroke-width="1.2"/>

<!-- P1 teal 250ns -->
<path d="M389.5,342 C390,300 391.5,230 393.5,200 C394.5,192 396,190.8 397,191 C400,192 402,200 405.7,218.4 C409,235 412,248 415.4,255.4 C418,263 421,270 425,276.3 C429,281 434,285 438,287.5 C445,292 455,296 470,302 C485,307 500,312 511,315 L512,330" stroke="#5a98b4" stroke-width="1.2"/>
<!-- P2 red 200ns -->
<path d="M405,342 C405.5,300 406.5,230 408,205 C409,195 410,192 411,192 C413,192 415,198 418.6,212 C421,222 424,236 428.2,252.2 C431,262 434,270 437,276.3 C441,282.7 446,286 450.7,289.1 C456,292 460,294 470,300 C480,304 494,308.5 503,311.6 L503.5,334" stroke="#e2302a" stroke-width="2.3"/>
<!-- P3 navy 150ns -->
<path d="M420.2,342 C420.5,300 421.5,230 423,199 C424,190 425.5,186.6 427,186.6 C429,187 431,193 434.7,212 C437,222 440,233 444.3,252.2 C447,260 449,265 450.7,266.6 C453,269 456,272 465.2,279.5 C470,282 476,286 483.3,290.8 C488,293 491,295 493,297.4 L493.8,330" stroke="#34348a" stroke-width="1.8"/>
<!-- P4 blue 100ns -->
<path d="M435.5,342 C436,300 436.5,230 438,199 C439,190 440,186 441,186 C443,186 446,195 449.1,210.4 C451,220 452,225 454,232.9 C456,242 458,248 460.4,252.2 C463,258 465,263 466.8,266.6 C470,272 472,275 474.9,276.3 C477,278 480,281 482,283.8 L483,320 L484.5,329" stroke="#3860b4" stroke-width="2.1"/>
<!-- P5 khaki 80ns -->
<path d="M450,342 C450.3,300 451,230 452.3,207 C453,195 454.5,188.7 455.6,188.7 C457.5,189 460,198 463.6,215.2 C466,226 468,234 470,239.3 C473,248 477,256 479.5,264.8 C482,270 485,275 487.7,280 L488.3,329" stroke="#b8a680" stroke-width="1.2"/>
<!-- P6 salmon 60ns -->
<path d="M465.2,342 C465.5,300 466,230 466.8,207 C467.5,195 468.5,188.7 469.5,188.7 C471,189 474,196 477,207.8 C480,220 482,230 484.3,236.3 C487,245 489,255 492,264.6 C493,268 493,270 493.1,271.2 L493.6,332" stroke="#d46a5e" stroke-width="1.5"/>
<!-- P7 steel blue 40ns -->
<path d="M494.9,342 L495.3,200 C495.6,191 496,188 496.4,188.1 C497,188.5 497.8,194 498.6,199 C499.5,205 500.5,212 501.9,218.7 C503,226 505,234 506.2,240.6 C508,248 509,256 510.6,262.4 C512,266 514,268 515,269 C516,272 517,275 518.3,277.7 L518.9,300 L519.3,328" stroke="#4580be" stroke-width="1.3"/>
<!-- P8 cyan 30ns -->
<path d="M510.2,342 L510.5,200 C510.7,190 510.9,185 511,184.8 C512,186 513,192 513.9,196.9 C515,203 517,212 518.3,218.7 C520,226 521,233 522.6,240.6 C524,248 525,255 525.9,260.2 L527,264.6 L527.6,328" stroke="#40b2dc" stroke-width="1.3"/>
<!-- P9 olive 20ns -->
<path d="M525.5,342 L525.8,200 C526,192 526.2,188 526.3,188.1 C527.5,189 528.5,192 529.2,194.7 C531,203 532,211 533.6,218.7 C535,228 537,240 537.9,245 L539,250.4 L539.5,330" stroke="#78963a" stroke-width="1.4"/>
<!-- P10 pink 13ns -->
<path d="M540.8,342 L541.2,205 C541.5,196 542,192 542.3,192 C543,192.5 544,194 544.5,196.9 L545.6,330" stroke="#e2a4a4" stroke-width="1.2"/>
<!-- P11 lavender 8ns -->
<path d="M555.4,342 L556,200 C556.4,193 556.8,190.7 557,190.7 C557.5,190.7 558.2,193 558.5,200 L558.7,330 C559,336 562,339 570,341" stroke="#a8bce0" stroke-width="1.8"/>
<!-- P12 orange 4ns -->
<path d="M570.9,342 L571.2,200 C571.5,192 571.7,189.2 571.8,189.2 C572,189.2 572.4,192 572.6,200 L573,326 C573.3,334 574,338 575.5,340.5" stroke="#f2a83c" stroke-width="2.3"/>
<!-- P13 purple 2ns -->
<path d="M585.6,342 L585.8,200 L586,183.3 L586.3,200 L586.7,330 C587,334 587.5,336 588.5,339 C590,341 600,341.5 626,341.5" stroke="#6e4cb0" stroke-width="2.2"/>

<!-- legend -->
<g stroke-width="1.4" opacity="0.8">
<line x1="609" y1="180.3" x2="630" y2="180.3" stroke="#5a98b4"/>
<line x1="609" y1="193.7" x2="630" y2="193.7" stroke="#e2302a" stroke-width="2.6"/>
<line x1="609" y1="207.8" x2="630" y2="207.8" stroke="#34348a"/>
<line x1="609" y1="222" x2="630" y2="222" stroke="#3860b4" stroke-width="2.4"/>
<line x1="609" y1="236" x2="630" y2="236" stroke="#b8a680"/>
<line x1="609" y1="250" x2="630" y2="250" stroke="#d46a5e"/>
<line x1="609" y1="264.5" x2="630" y2="264.5" stroke="#3a78b8"/>
<line x1="609" y1="278.5" x2="630" y2="278.5" stroke="#3ab2dc"/>
<line x1="609" y1="292.8" x2="630" y2="292.8" stroke="#7a9838" stroke-width="2"/>
<line x1="609" y1="307" x2="630" y2="307" stroke="#a8bce0"/>
<line x1="609" y1="321" x2="630" y2="321" stroke="#e2a4a4"/>
<line x1="609" y1="335" x2="630" y2="335" stroke="#f0a232"/>
<line x1="609" y1="348.7" x2="630" y2="348.7" stroke="#7070a0"/>
</g>
<g fill="#333" stroke="none" font-size="8">
<text x="633" y="183.3">250ns</text><text x="633" y="196.7">200ns</text><text x="633" y="210.8">150ns</text>
<text x="633" y="225">100ns</text><text x="633" y="239">80ns</text><text x="633" y="253">60ns</text>
<text x="633" y="267.5">40ns</text><text x="633" y="281.5">30ns</text><text x="633" y="295.8">20ns</text>
<text x="633" y="310">8ns</text><text x="633" y="324">13ns</text><text x="633" y="338">4ns</text>
<text x="633" y="351.7">2ns</text>
</g>
</g>
<g font-family="Liberation Sans, sans-serif" fill="none" filter="url(#bl)">
<line x1="866.7" y1="183.5" x2="866.7" y2="341.5" stroke="#9a9a9a" stroke-width="1"/>
<line x1="866.5" y1="341.2" x2="1122.5" y2="341.2" stroke="#9a9a9a" stroke-width="1"/>
<g id="ticks2" stroke="#9a9a9a" stroke-width="1"><line x1="900.4" y1="338.5" x2="900.4" y2="341"/><line x1="931.6" y1="338.5" x2="931.6" y2="341"/><line x1="962" y1="338.5" x2="962" y2="341"/><line x1="993.8" y1="338.5" x2="993.8" y2="341"/><line x1="1025.6" y1="338.5" x2="1025.6" y2="341"/><line x1="1058.8" y1="338.5" x2="1058.8" y2="341"/><line x1="1089" y1="338.5" x2="1089" y2="341"/></g>
<g fill="#444" stroke="#555" stroke-width="0.3" font-size="7" text-anchor="end">
<text x="858" y="188">14.00</text><text x="858" y="210">12.00</text><text x="858" y="232">10.00</text>
<text x="858" y="254.5">8.00</text><text x="858" y="277">6.00</text><text x="858" y="299">4.00</text>
<text x="858" y="322">2.00</text><text x="858" y="344">0.00</text>
</g>
<g fill="#444" stroke="#555" stroke-width="0.3" font-size="7" text-anchor="middle">
<text x="868" y="355">-400</text><text x="900.4" y="355">-300</text><text x="931.6" y="355">-200</text>
<text x="962" y="355">0</text><text x="993.8" y="355">100</text><text x="1025.6" y="355">200</text>
<text x="1058.8" y="355">300</text><text x="1089" y="355">400</text><text x="1121" y="355">500</text>
</g>
<text x="993.8" y="377" fill="#222" stroke="#333" stroke-width="0.3" font-size="13" text-anchor="middle">Pulse width/ns</text>
<text transform="translate(832,273.7) rotate(-90)" fill="#222" stroke="#333" stroke-width="0.3" font-size="13" text-anchor="middle">Peak power/kW</text>
<path d="M867.00,340.00 C872.50,339.97 889.50,339.90 900.00,339.80 C910.50,339.70 924.00,339.57 930.00,339.40 C936.00,339.23 934.00,339.27 936.00,338.80 C938.00,338.33 940.00,337.73 942.00,336.60 C944.00,335.47 946.17,333.93 948.00,332.00 C949.83,330.07 951.50,327.67 953.00,325.00 C954.50,322.33 955.67,319.83 957.00,316.00 C958.33,312.17 959.67,307.33 961.00,302.00 C962.33,296.67 963.67,289.88 965.00,284.00 C966.33,278.12 967.67,271.87 969.00,266.70 C970.33,261.53 971.63,256.92 973.00,253.00 C974.37,249.08 976.03,245.70 977.20,243.20 C978.37,240.70 978.93,239.23 980.00,238.00 C981.07,236.77 982.43,235.88 983.60,235.80 C984.77,235.72 985.77,236.48 987.00,237.50 C988.23,238.52 989.75,239.98 991.00,241.90 C992.25,243.82 993.33,245.78 994.50,249.00 C995.67,252.22 996.83,256.53 998.00,261.20 C999.17,265.87 1000.35,271.47 1001.50,277.00 C1002.65,282.53 1003.65,288.73 1004.90,294.40 C1006.15,300.07 1007.40,306.33 1009.00,311.00 C1010.60,315.67 1012.50,319.48 1014.50,322.40 C1016.50,325.32 1018.25,326.77 1021.00,328.50 C1023.75,330.23 1027.17,331.58 1031.00,332.80 C1034.83,334.02 1039.37,334.97 1044.00,335.80 C1048.63,336.63 1051.13,337.28 1058.80,337.80 C1066.47,338.32 1079.42,338.67 1090.00,338.90 C1100.58,339.13 1116.92,339.15 1122.30,339.20" stroke="#333" stroke-width="0.95"/>
</g>
</svg>
</body></html>
